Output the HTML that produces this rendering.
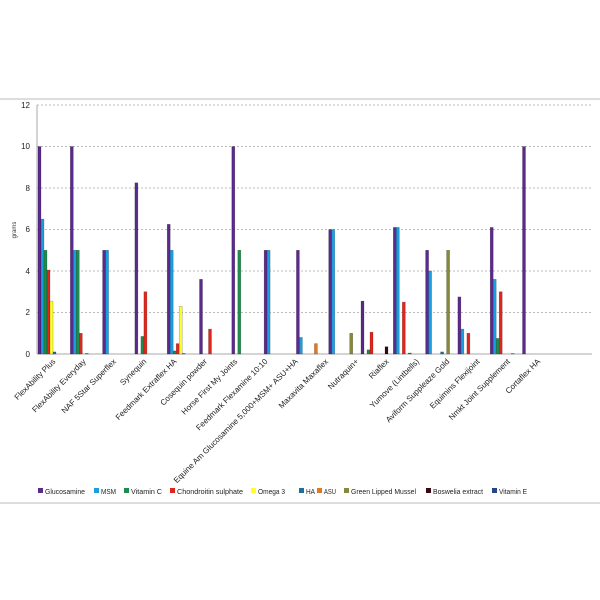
<!DOCTYPE html>
<html><head><meta charset="utf-8"><style>body{margin:0;background:#fff}svg{display:block}</style></head><body>
<svg width="600" height="600" xmlns="http://www.w3.org/2000/svg" font-family="Liberation Sans, sans-serif">
<rect width="600" height="600" fill="#fff"/>
<line x1="0" y1="99" x2="600" y2="99" stroke="#ddd" stroke-width="2"/>
<line x1="0" y1="503" x2="600" y2="503" stroke="#ddd" stroke-width="2"/>
<g stroke="#bbb" stroke-dasharray="2,2" stroke-width="1">
<line x1="37" y1="105" x2="592" y2="105"/><line x1="37" y1="146.5" x2="592" y2="146.5"/>
<line x1="37" y1="188" x2="592" y2="188"/><line x1="37" y1="229.5" x2="592" y2="229.5"/>
<line x1="37" y1="271" x2="592" y2="271"/><line x1="37" y1="312.5" x2="592" y2="312.5"/>
</g>
<line x1="37" y1="105" x2="37" y2="354" stroke="#aaa"/>
<line x1="37" y1="354" x2="592" y2="354" stroke="#aaa"/>
<g font-size="8" text-anchor="end" fill="#222">
<text x="30" y="357">0</text><text x="30" y="315">2</text><text x="30" y="274">4</text><text x="30" y="232">6</text><text x="30" y="191">8</text><text x="30" y="149">10</text><text x="30" y="108">12</text>
</g>
<text x="0" y="0" font-size="6" transform="translate(16,230) rotate(-90)" text-anchor="middle" fill="#333">grams</text>
<g stroke="rgba(0,0,0,0.35)" stroke-width="0.5">
<rect x="38" y="146.5" width="3" height="207.5" fill="#5a2a8c"/>
<rect x="41" y="219.1" width="3" height="134.9" fill="#1a9ee0"/>
<rect x="44" y="250.25" width="3" height="103.75" fill="#1d8c4c"/>
<rect x="47" y="270" width="3" height="84" fill="#e0261c"/>
<rect x="50" y="301.1" width="3" height="52.9" fill="#ffff30"/>
<rect x="53" y="351.9" width="3" height="2.1" fill="#1f6f9c"/>
<rect x="70.3" y="146.5" width="3" height="207.5" fill="#5a2a8c"/>
<rect x="73.3" y="250.25" width="3" height="103.75" fill="#1a9ee0"/>
<rect x="76.3" y="250.25" width="3" height="103.75" fill="#1d8c4c"/>
<rect x="79.3" y="333.25" width="3" height="20.75" fill="#e0261c"/>
<rect x="85.3" y="353.4" width="3" height="0.6" fill="#1f6f9c"/>
<rect x="102.6" y="250.25" width="3" height="103.75" fill="#5a2a8c"/>
<rect x="105.6" y="250.25" width="3" height="103.75" fill="#1a9ee0"/>
<rect x="134.9" y="182.8" width="3" height="171.2" fill="#5a2a8c"/>
<rect x="140.9" y="336.4" width="3" height="17.6" fill="#1d8c4c"/>
<rect x="143.9" y="291.75" width="3" height="62.25" fill="#e0261c"/>
<rect x="167.2" y="224.3" width="3" height="129.7" fill="#5a2a8c"/>
<rect x="170.2" y="250.25" width="3" height="103.75" fill="#1a9ee0"/>
<rect x="173.2" y="350.9" width="3" height="3.1" fill="#1d8c4c"/>
<rect x="176.2" y="343.6" width="3" height="10.4" fill="#e0261c"/>
<rect x="179.2" y="306.3" width="3" height="47.7" fill="#ffff30"/>
<rect x="182.2" y="353.4" width="3" height="0.6" fill="#1f6f9c"/>
<rect x="199.5" y="279.3" width="3" height="74.7" fill="#5a2a8c"/>
<rect x="208.5" y="329.1" width="3" height="24.9" fill="#e0261c"/>
<rect x="231.8" y="146.5" width="3" height="207.5" fill="#5a2a8c"/>
<rect x="237.8" y="250.25" width="3" height="103.75" fill="#1d8c4c"/>
<rect x="264.1" y="250.25" width="3" height="103.75" fill="#5a2a8c"/>
<rect x="267.1" y="250.25" width="3" height="103.75" fill="#1a9ee0"/>
<rect x="296.4" y="250.25" width="3" height="103.75" fill="#5a2a8c"/>
<rect x="299.4" y="337.4" width="3" height="16.6" fill="#1a9ee0"/>
<rect x="314.4" y="343.6" width="3" height="10.4" fill="#e07a22"/>
<rect x="328.7" y="229.5" width="3" height="124.5" fill="#5a2a8c"/>
<rect x="331.7" y="229.5" width="3" height="124.5" fill="#1a9ee0"/>
<rect x="349.7" y="333.25" width="3" height="20.75" fill="#86883c"/>
<rect x="361" y="301.1" width="3" height="52.9" fill="#5a2a8c"/>
<rect x="367" y="349.85" width="3" height="4.15" fill="#1d8c4c"/>
<rect x="370" y="332.2" width="3" height="21.8" fill="#e0261c"/>
<rect x="385" y="346.7" width="3" height="7.3" fill="#3a0812"/>
<rect x="393.3" y="227.4" width="3" height="126.6" fill="#5a2a8c"/>
<rect x="396.3" y="227.4" width="3" height="126.6" fill="#1a9ee0"/>
<rect x="402.3" y="302.1" width="3" height="51.9" fill="#e0261c"/>
<rect x="408.3" y="353" width="3" height="1" fill="#1f6f9c"/>
<rect x="425.6" y="250.25" width="3" height="103.75" fill="#5a2a8c"/>
<rect x="428.6" y="271" width="3" height="83" fill="#1a9ee0"/>
<rect x="440.6" y="351.9" width="3" height="2.1" fill="#1f6f9c"/>
<rect x="446.6" y="250.25" width="3" height="103.75" fill="#86883c"/>
<rect x="457.9" y="296.9" width="3" height="57.1" fill="#5a2a8c"/>
<rect x="460.9" y="329.1" width="3" height="24.9" fill="#1a9ee0"/>
<rect x="466.9" y="333.25" width="3" height="20.75" fill="#e0261c"/>
<rect x="490.2" y="227.4" width="3" height="126.6" fill="#5a2a8c"/>
<rect x="493.2" y="279.3" width="3" height="74.7" fill="#1a9ee0"/>
<rect x="496.2" y="338.4" width="3" height="15.6" fill="#1d8c4c"/>
<rect x="499.2" y="291.75" width="3" height="62.25" fill="#e0261c"/>
<rect x="511.2" y="353.4" width="3" height="0.6" fill="#86883c"/>
<rect x="522.5" y="146.5" width="3" height="207.5" fill="#5a2a8c"/>
</g>
<g font-size="8" fill="#222" text-anchor="end">
<text x="56" y="362" transform="rotate(-45,56,362)">FlexAbility Plus</text>
<text x="86.3" y="362" transform="rotate(-45,86.3,362)">FlexAbility Everyday</text>
<text x="116.6" y="362" transform="rotate(-45,116.6,362)">NAF 5Star Superflex</text>
<text x="146.9" y="362" transform="rotate(-45,146.9,362)">Synequin</text>
<text x="177.2" y="362" transform="rotate(-45,177.2,362)">Feedmark Extraflex HA</text>
<text x="207.5" y="362" transform="rotate(-45,207.5,362)">Cosequin powder</text>
<text x="237.8" y="362" transform="rotate(-45,237.8,362)">Horse First My Joints</text>
<text x="268.1" y="362" transform="rotate(-45,268.1,362)">Feedmark Flexamine 10:10</text>
<text x="298.4" y="362" transform="rotate(-45,298.4,362)">Equine Am Glucosamine 5,000+MSM+ ASU+HA</text>
<text x="328.7" y="362" transform="rotate(-45,328.7,362)">Maxavita Maxaflex</text>
<text x="359" y="362" transform="rotate(-45,359,362)">Nutraquin+</text>
<text x="389.3" y="362" transform="rotate(-45,389.3,362)">Riaflex</text>
<text x="419.6" y="362" transform="rotate(-45,419.6,362)">Yumove (Lintbells)</text>
<text x="449.9" y="362" transform="rotate(-45,449.9,362)">Aviform Suppleaze Gold</text>
<text x="480.2" y="362" transform="rotate(-45,480.2,362)">Equimins Flexijoint</text>
<text x="510.5" y="362" transform="rotate(-45,510.5,362)">Nmkt Joint Supplement</text>
<text x="540.8" y="362" transform="rotate(-45,540.8,362)">Cortaflex HA</text>
</g>
<g font-size="7.5" fill="#222" lengthAdjust="spacingAndGlyphs">
<rect x="38" y="488" width="5" height="5" fill="#5a2a8c"/><text x="45" y="494" textLength="40" lengthAdjust="spacingAndGlyphs">Glucosamine</text>
<rect x="94" y="488" width="5" height="5" fill="#1a9ee0"/><text x="101" y="494" textLength="15" lengthAdjust="spacingAndGlyphs">MSM</text>
<rect x="124" y="488" width="5" height="5" fill="#1d8c4c"/><text x="131" y="494" textLength="31" lengthAdjust="spacingAndGlyphs">Vitamin C</text>
<rect x="170" y="488" width="5" height="5" fill="#e0261c"/><text x="177" y="494" textLength="66" lengthAdjust="spacingAndGlyphs">Chondroitin sulphate</text>
<rect x="251" y="488" width="5" height="5" fill="#ffff30"/><text x="258" y="494" textLength="27" lengthAdjust="spacingAndGlyphs">Omega 3</text>
<rect x="299" y="488" width="5" height="5" fill="#1f6f9c"/><text x="306" y="494" textLength="9" lengthAdjust="spacingAndGlyphs">HA</text>
<rect x="317" y="488" width="5" height="5" fill="#e07a22"/><text x="324" y="494" textLength="12" lengthAdjust="spacingAndGlyphs">ASU</text>
<rect x="344" y="488" width="5" height="5" fill="#86883c"/><text x="351" y="494" textLength="65" lengthAdjust="spacingAndGlyphs">Green Lipped Mussel</text>
<rect x="426" y="488" width="5" height="5" fill="#3a0812"/><text x="433" y="494" textLength="50" lengthAdjust="spacingAndGlyphs">Boswelia extract</text>
<rect x="492" y="488" width="5" height="5" fill="#27468a"/><text x="499" y="494" textLength="28" lengthAdjust="spacingAndGlyphs">Vitamin E</text>
</g>
</svg>
</body></html>
